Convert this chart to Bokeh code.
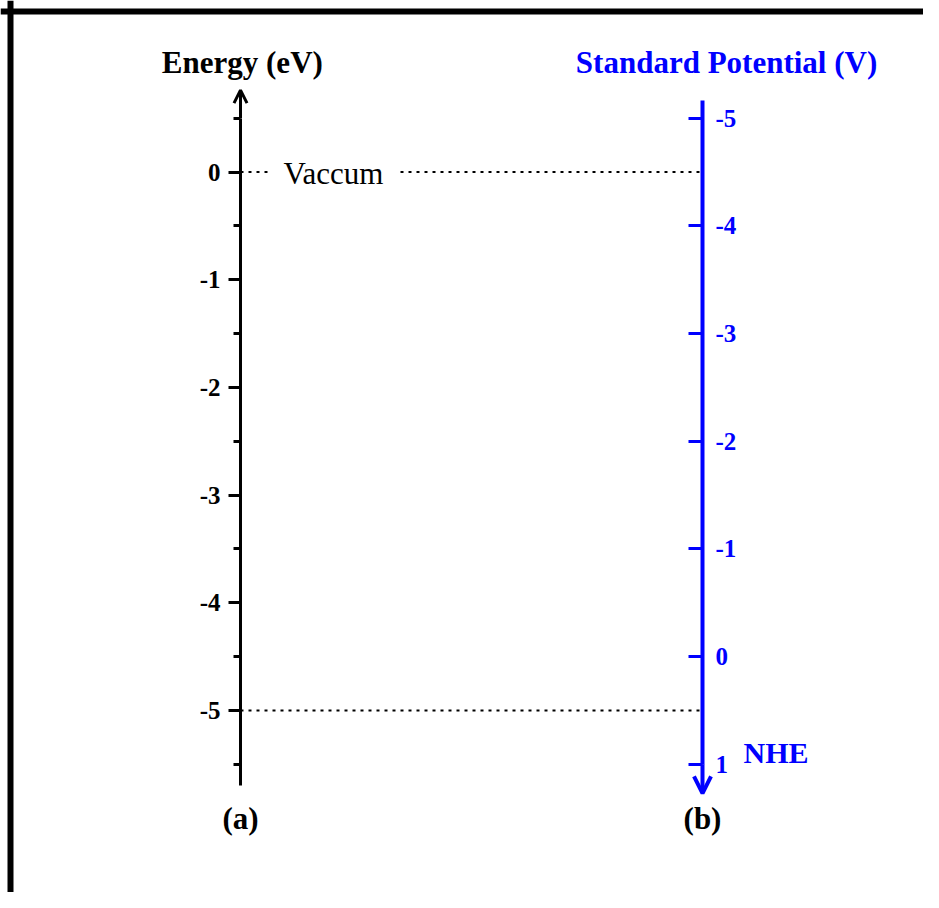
from bokeh.plotting import figure
from bokeh.models import Range1d, LinearAxis, FixedTicker, Arrow, OpenHead, Label, Span
from bokeh.embed import file_html
from bokeh.resources import INLINE

# ---- data -------------------------------------------------------------
energy_ticks = [0, -1, -2, -3, -4, -5]
energy_minor_ticks = [0.5, -0.5, -1.5, -2.5, -3.5, -4.5, -5.5]
energy_tick_labels = ["0", "-1", "-2", "-3", "-4", "-5"]

nhe_ticks = [-5, -4, -3, -2, -1, 0, 1]
nhe_tick_labels = ["-5", "-4", "-3", "-2", "-1", "0", "1"]

level_energies = [0, -5]          # dotted reference levels (eV)
vacuum_energy = 0
vacuum_text = "Vaccum"
nhe_vacuum_offset = -4.5          # E(eV) = -4.5 - V(NHE)

energy_axis_extent = (-5.70, 0.76)   # eV, arrow tip at top
nhe_axis_extent = (-5.16, 1.27)      # V, arrow tip at bottom

BLUE = "#0000FF"
FONT = "Liberation Serif"

# ---- figure -----------------------------------------------------------
W, H = 923, 892
PX_X = 462.0      # pixels per x unit (distance between the two axes)
PX_E = 107.7      # pixels per eV
x_lo = -240 / PX_X
x_hi = x_lo + W / PX_X
E_top = 171.5 / PX_E
E_bot = E_top - H / PX_E
LIFT = 10 / PX_E  # label baseline correction

p = figure(width=W, height=H, output_backend="svg", toolbar_location=None,
           x_range=Range1d(x_lo, x_hi), y_range=Range1d(E_bot, E_top),
           x_axis_location=None, y_axis_location=None,
           min_border=0, min_border_left=0, min_border_right=0,
           min_border_top=0, min_border_bottom=0)
p.grid.visible = False
p.outline_line_color = None
p.background_fill_color = "white"
p.border_fill_color = "white"

# NHE scale: V = -E - 4.5
p.extra_y_ranges = {"nhe": Range1d(start=nhe_vacuum_offset - E_bot, end=nhe_vacuum_offset - E_top)}

# outer frame (top and left edges)
p.add_layout(Span(location=E_top - 11 / PX_E, dimension="width", line_color="black", line_width=6))
p.add_layout(Span(location=x_lo + 10 / PX_X, dimension="height", line_color="black", line_width=6))

# dotted levels
p.segment(x0=[0] * len(level_energies), x1=[1] * len(level_energies),
          y0=level_energies, y1=level_energies,
          line_color="black", line_width=2, line_dash="3 5")

# vacuum label (white background hides the line under it)
p.add_layout(Label(x=0.201, y=vacuum_energy - 0.107 + LIFT, text=vacuum_text,
                   text_font=FONT, text_font_size="31px", text_color="black",
                   text_align="center", text_baseline="alphabetic",
                   background_fill_color="white", padding=14))

# left energy axis
left_axis = LinearAxis(
    fixed_location=0,
    ticker=FixedTicker(ticks=energy_ticks, minor_ticks=energy_minor_ticks),
    major_label_overrides=dict(zip(energy_ticks, energy_tick_labels)),
    bounds=(energy_axis_extent[0], 0.5),
    axis_line_width=3, axis_line_color="black",
    major_tick_line_width=3, minor_tick_line_width=3,
    major_tick_line_color="black", minor_tick_line_color="black",
    major_tick_out=12, major_tick_in=0, minor_tick_out=7, minor_tick_in=0,
    major_label_text_font=FONT, major_label_text_font_style="bold",
    major_label_text_font_size="25px", major_label_text_color="black",
    major_label_standoff=8)
p.add_layout(left_axis, "left")
p.add_layout(Arrow(x_start=0, y_start=0.5, x_end=0, y_end=energy_axis_extent[1],
                   line_width=3, line_color="black",
                   end=OpenHead(size=13, line_width=3, line_color="black")))

# right NHE axis
right_axis = LinearAxis(
    y_range_name="nhe",
    fixed_location=1,
    ticker=FixedTicker(ticks=nhe_ticks, minor_ticks=[]),
    major_label_overrides=dict(zip(nhe_ticks, nhe_tick_labels)),
    bounds=(nhe_axis_extent[0], 1.0),
    axis_line_width=4, axis_line_color=BLUE,
    major_tick_line_width=3, major_tick_line_color=BLUE,
    major_tick_out=0, major_tick_in=14, minor_tick_out=0, minor_tick_in=0,
    major_label_text_font=FONT, major_label_text_font_style="bold",
    major_label_text_font_size="25px", major_label_text_color=BLUE,
    major_label_standoff=13)
p.add_layout(right_axis, "right")
p.add_layout(Arrow(x_start=1, y_start=1.0, x_end=1, y_end=nhe_axis_extent[1],
                   y_range_name="nhe", line_width=4, line_color=BLUE,
                   end=OpenHead(size=17, line_width=4, line_color=BLUE)))

# titles and labels
def lab(x, y, text, color="black", size="31px", align="center", **kw):
    p.add_layout(Label(x=x, y=y + LIFT, text=text, text_font=FONT, text_font_size=size,
                       text_font_style="bold", text_color=color,
                       text_align=align, text_baseline="alphabetic", **kw))

lab(0.004, 0.924, "Energy (eV)")
lab(1.052, 0.924, "Standard Potential (V)", color=BLUE)
lab(0.0, -6.096, "(a)")
lab(1.0, -6.096, "(b)")
lab(1.089, -5.483, "NHE", color=BLUE, size="30px", align="left")

open("out.html", "w").write(file_html(p, INLINE))
